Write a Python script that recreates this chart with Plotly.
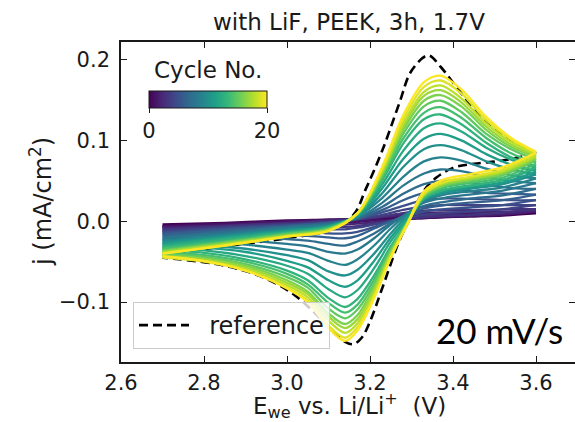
import plotly.graph_objects as go
from plotly.colors import sample_colorscale

# ---------------- data ----------------
cycles = list(range(21))  # cycle number 0..20

# potential grid of the anodic (forward) and cathodic (reverse) sweeps, V vs Li/Li+
E_fwd = [2.70, 2.85, 3.00, 3.10, 3.17, 3.23, 3.28, 3.33, 3.37, 3.42, 3.48, 3.54, 3.60]
E_rev = [3.60, 3.52, 3.44, 3.38, 3.33, 3.29, 3.25, 3.21, 3.17, 3.14, 3.10, 3.05, 3.00, 2.90, 2.80, 2.70]

# current density (mA/cm2), forward sweep, one row per cycle
j_fwd = [
    [-0.004, -0.002, 0.001, 0.002, 0.003, 0.004, 0.005, 0.006, 0.006, 0.007, 0.008, 0.009, 0.010],
    [-0.006, -0.003, -0.000, 0.002, 0.003, 0.005, 0.006, 0.008, 0.009, 0.009, 0.010, 0.011, 0.012],
    [-0.008, -0.005, -0.002, 0.001, 0.003, 0.005, 0.008, 0.010, 0.011, 0.011, 0.012, 0.012, 0.013],
    [-0.010, -0.006, -0.003, 0.000, 0.002, 0.006, 0.010, 0.013, 0.014, 0.014, 0.014, 0.015, 0.015],
    [-0.012, -0.008, -0.004, -0.001, 0.003, 0.008, 0.014, 0.018, 0.020, 0.020, 0.020, 0.020, 0.020],
    [-0.014, -0.009, -0.005, -0.002, 0.003, 0.011, 0.019, 0.026, 0.028, 0.028, 0.027, 0.026, 0.026],
    [-0.016, -0.011, -0.006, -0.002, 0.003, 0.014, 0.026, 0.035, 0.038, 0.038, 0.035, 0.034, 0.033],
    [-0.019, -0.013, -0.007, -0.003, 0.004, 0.018, 0.034, 0.046, 0.050, 0.049, 0.045, 0.041, 0.040],
    [-0.021, -0.015, -0.008, -0.004, 0.004, 0.023, 0.044, 0.059, 0.064, 0.062, 0.055, 0.050, 0.047],
    [-0.024, -0.017, -0.010, -0.005, 0.006, 0.029, 0.055, 0.074, 0.079, 0.075, 0.065, 0.057, 0.053],
    [-0.026, -0.018, -0.011, -0.006, 0.006, 0.035, 0.067, 0.089, 0.094, 0.088, 0.074, 0.064, 0.058],
    [-0.028, -0.020, -0.012, -0.006, 0.007, 0.041, 0.077, 0.102, 0.108, 0.100, 0.083, 0.070, 0.062],
    [-0.030, -0.021, -0.013, -0.007, 0.008, 0.046, 0.087, 0.115, 0.121, 0.111, 0.091, 0.076, 0.066],
    [-0.032, -0.023, -0.014, -0.008, 0.009, 0.051, 0.096, 0.126, 0.132, 0.120, 0.097, 0.079, 0.068],
    [-0.034, -0.025, -0.015, -0.009, 0.009, 0.054, 0.102, 0.134, 0.141, 0.128, 0.103, 0.084, 0.072],
    [-0.036, -0.026, -0.016, -0.009, 0.009, 0.057, 0.108, 0.142, 0.149, 0.135, 0.108, 0.089, 0.076],
    [-0.037, -0.027, -0.017, -0.010, 0.010, 0.060, 0.113, 0.149, 0.156, 0.142, 0.113, 0.092, 0.079],
    [-0.038, -0.028, -0.018, -0.011, 0.010, 0.061, 0.117, 0.155, 0.162, 0.147, 0.117, 0.095, 0.081],
    [-0.039, -0.029, -0.018, -0.011, 0.010, 0.063, 0.121, 0.160, 0.168, 0.152, 0.121, 0.098, 0.083],
    [-0.040, -0.030, -0.019, -0.012, 0.010, 0.066, 0.126, 0.166, 0.174, 0.158, 0.125, 0.101, 0.085],
    [-0.040, -0.030, -0.019, -0.012, 0.010, 0.068, 0.131, 0.172, 0.180, 0.163, 0.129, 0.103, 0.086],
]

# current density (mA/cm2), reverse sweep, one row per cycle
j_rev = [
    [0.010, 0.007, 0.006, 0.005, 0.004, 0.003, 0.003, 0.002, 0.001, 0.001, 0.000, -0.001, -0.001, -0.003, -0.004, -0.006],
    [0.012, 0.008, 0.006, 0.005, 0.004, 0.003, 0.002, 0.001, -0.001, -0.001, -0.002, -0.003, -0.003, -0.005, -0.006, -0.008],
    [0.013, 0.009, 0.007, 0.006, 0.005, 0.003, 0.001, -0.001, -0.003, -0.004, -0.004, -0.004, -0.005, -0.006, -0.008, -0.010],
    [0.015, 0.011, 0.008, 0.007, 0.005, 0.003, -0.000, -0.003, -0.006, -0.007, -0.007, -0.007, -0.007, -0.009, -0.010, -0.012],
    [0.020, 0.015, 0.012, 0.010, 0.008, 0.004, 0.000, -0.004, -0.008, -0.010, -0.010, -0.010, -0.010, -0.011, -0.012, -0.014],
    [0.026, 0.020, 0.017, 0.015, 0.012, 0.006, 0.000, -0.007, -0.013, -0.015, -0.015, -0.013, -0.013, -0.013, -0.014, -0.016],
    [0.033, 0.026, 0.023, 0.020, 0.016, 0.008, 0.000, -0.009, -0.018, -0.021, -0.020, -0.018, -0.017, -0.016, -0.017, -0.018],
    [0.040, 0.032, 0.028, 0.024, 0.019, 0.009, -0.002, -0.015, -0.025, -0.030, -0.028, -0.024, -0.022, -0.020, -0.020, -0.022],
    [0.047, 0.038, 0.033, 0.029, 0.023, 0.010, -0.004, -0.021, -0.035, -0.040, -0.038, -0.031, -0.028, -0.024, -0.023, -0.024],
    [0.053, 0.042, 0.037, 0.033, 0.025, 0.009, -0.009, -0.030, -0.047, -0.054, -0.049, -0.039, -0.035, -0.029, -0.027, -0.027],
    [0.058, 0.046, 0.040, 0.035, 0.027, 0.007, -0.015, -0.040, -0.060, -0.067, -0.062, -0.048, -0.042, -0.034, -0.030, -0.029],
    [0.061, 0.048, 0.042, 0.037, 0.028, 0.004, -0.020, -0.049, -0.073, -0.081, -0.073, -0.057, -0.049, -0.038, -0.033, -0.032],
    [0.065, 0.051, 0.044, 0.039, 0.028, 0.002, -0.025, -0.058, -0.085, -0.094, -0.084, -0.065, -0.055, -0.043, -0.036, -0.034],
    [0.067, 0.051, 0.044, 0.039, 0.028, -0.001, -0.031, -0.067, -0.096, -0.106, -0.095, -0.073, -0.061, -0.047, -0.039, -0.036],
    [0.071, 0.054, 0.047, 0.042, 0.030, -0.001, -0.034, -0.072, -0.103, -0.113, -0.101, -0.078, -0.065, -0.050, -0.042, -0.038],
    [0.075, 0.057, 0.049, 0.044, 0.031, -0.002, -0.036, -0.077, -0.109, -0.120, -0.108, -0.082, -0.069, -0.053, -0.044, -0.040],
    [0.077, 0.059, 0.051, 0.045, 0.032, -0.002, -0.039, -0.081, -0.116, -0.127, -0.114, -0.087, -0.073, -0.055, -0.046, -0.042],
    [0.079, 0.061, 0.052, 0.047, 0.033, -0.003, -0.040, -0.085, -0.121, -0.132, -0.118, -0.090, -0.076, -0.057, -0.047, -0.043],
    [0.081, 0.062, 0.054, 0.048, 0.034, -0.004, -0.042, -0.089, -0.126, -0.138, -0.123, -0.094, -0.079, -0.059, -0.049, -0.044],
    [0.084, 0.064, 0.055, 0.049, 0.034, -0.004, -0.045, -0.093, -0.131, -0.144, -0.129, -0.098, -0.082, -0.061, -0.050, -0.045],
    [0.085, 0.067, 0.058, 0.052, 0.037, -0.003, -0.045, -0.095, -0.135, -0.148, -0.132, -0.100, -0.083, -0.061, -0.049, -0.043],
]

# reference electrode curve (dashed)
ref_E_fwd = [2.70, 2.85, 3.00, 3.10, 3.16, 3.19, 3.23, 3.27, 3.30, 3.34, 3.37, 3.42, 3.48, 3.54, 3.60]
ref_j_fwd = [-0.041, -0.031, -0.021, -0.011, 0.008, 0.040, 0.088, 0.145, 0.186, 0.205, 0.191, 0.158, 0.124, 0.100, 0.084]
ref_E_rev = [3.60, 3.52, 3.45, 3.40, 3.36, 3.33, 3.30, 3.27, 3.23, 3.20, 3.18, 3.16, 3.14, 3.11, 3.07, 3.02, 2.95, 2.85, 2.70]
ref_j_rev = [0.084, 0.075, 0.071, 0.066, 0.054, 0.038, 0.008, -0.025, -0.082, -0.124, -0.144, -0.152, -0.149, -0.136, -0.115, -0.092, -0.071, -0.055, -0.045]

x_ticks = [2.6, 2.8, 3.0, 3.2, 3.4, 3.6]
x_tick_labels = ["2.6", "2.8", "3.0", "3.2", "3.4", "3.6"]
y_ticks = [-0.1, 0.0, 0.1, 0.2]
y_tick_labels = ["\u22120.1", "0.0", "0.1", "0.2"]
cbar_ticks = [0, 20]

# ---------------- figure ----------------
W, H = 575, 422
PL, PT, PB = 121, 42, 362          # plot area edges (px)
PW = W - PL
PH = PB - PT
FONT = "DejaVu Sans"
INK = "#1a1a1a"

def px(xp):
    return (xp - PL) / PW

def py(yp):
    return (PB - yp) / PH

colors = sample_colorscale("Viridis", [n / 20 for n in cycles])

fig = go.Figure()

dash = dict(color="black", width=2.6, dash="9px,5px")
fig.add_trace(go.Scatter(x=ref_E_fwd, y=ref_j_fwd, mode="lines", line=dash,
                         line_shape="spline", name="\u00a0\u00a0reference", legendgroup="ref",
                         hoverinfo="skip"))
fig.add_trace(go.Scatter(x=ref_E_rev, y=ref_j_rev, mode="lines", line=dash,
                         line_shape="spline", name="reference", legendgroup="ref",
                         showlegend=False, hoverinfo="skip"))

for n in cycles:
    for xs, ys in ((E_fwd, j_fwd[n]), (E_rev, j_rev[n])):
        fig.add_trace(go.Scatter(
            x=xs, y=ys, mode="lines",
            line=dict(color=colors[n], width=2.3, shape="spline", smoothing=0.9),
            showlegend=False, hoverinfo="skip"))

# colour bar (Cycle No.) inside the plot area
CB_L, CB_R, CB_T, CB_B = 149, 267, 90, 107
fig.add_trace(go.Scatter(
    x=[None], y=[None], mode="markers", showlegend=False, hoverinfo="skip",
    marker=dict(color=[0], colorscale="Viridis", cmin=cycles[0], cmax=cycles[-1],
                showscale=True,
                colorbar=dict(
                    orientation="h", xref="paper", yref="paper",
                    x=px((CB_L + CB_R) / 2), xanchor="center",
                    y=py(CB_T + 1), yanchor="top",
                    len=CB_R - CB_L, lenmode="pixels",
                    thickness=CB_B - CB_T, thicknessmode="pixels",
                    outlinewidth=1, outlinecolor=INK, xpad=0, ypad=0,
                    tickvals=cbar_ticks, ticktext=[str(v) for v in cbar_ticks],
                    ticks="outside", ticklen=5, tickwidth=1, tickcolor=INK,
                    tickfont=dict(family=FONT, size=21, color=INK),
                ))))

# invisible trace so the right-hand tick axis is drawn
fig.add_trace(go.Scatter(x=[None], y=[None], yaxis="y2", showlegend=False, hoverinfo="skip"))

axis_common = dict(showgrid=False, zeroline=False, ticks="inside", ticklen=6,
                   tickwidth=1.3, tickcolor=INK)

fig.update_layout(
    width=W, height=H, autosize=False,
    margin=dict(l=PL, r=0, t=PT, b=H - PB, pad=0),
    paper_bgcolor="white", plot_bgcolor="white",
    font=dict(family=FONT, color=INK),
    title=dict(text="with LiF, PEEK, 3h, 1.7V", xref="container", yref="container",
               x=349 / W, xanchor="center", y=1 - 22 / H, yanchor="middle",
               font=dict(size=23, family=FONT, color=INK)),
    xaxis=dict(range=[2.6, 2.6 + PW / 415.0], tickvals=x_ticks, ticktext=x_tick_labels,
               showline=True, linewidth=1.6, linecolor=INK, mirror="ticks",
               tickfont=dict(size=21), ticklabelstandoff=1, **axis_common),
    yaxis=dict(range=[-0.174, 0.2216], tickvals=y_ticks, ticktext=y_tick_labels,
               showline=True, linewidth=1.6, linecolor=INK,
               tickfont=dict(size=21), ticklabelstandoff=5, **axis_common),
    yaxis2=dict(range=[-0.174, 0.2216], tickvals=y_ticks, overlaying="y", side="right",
                anchor="x", showticklabels=False, showline=False, **axis_common),
    legend=dict(x=px(133), y=py(349), xanchor="left", yanchor="bottom",
                bgcolor="rgba(255,255,255,0.8)", bordercolor="#cccccc", borderwidth=1,
                font=dict(family=FONT, size=24, color=INK), itemwidth=50),
    annotations=[
        dict(text="Cycle No.", xref="paper", yref="paper",
             x=px(208), y=py(70), xanchor="center", yanchor="middle", showarrow=False,
             font=dict(family=FONT, size=23, color=INK)),
        dict(text="E<sub>we</sub> vs. Li/Li<sup>+</sup>\u00a0 (V)", xref="paper", yref="paper",
             x=px(349), y=py(405), xanchor="center", yanchor="middle", showarrow=False,
             font=dict(family=FONT, size=23, color=INK)),
        dict(text="j (mA/cm<sup>2</sup>)", xref="paper", yref="paper",
             x=px(41), y=py(202), xanchor="center", yanchor="middle", showarrow=False,
             textangle=-90, font=dict(family=FONT, size=24, color=INK)),
        dict(text="20 mV/s", xref="paper", yref="paper",
             x=px(565), y=py(330), xanchor="right", yanchor="middle", showarrow=False,
             font=dict(family="Lato", size=35, color="black")),
    ],
)

fig.write_html("out.html")
